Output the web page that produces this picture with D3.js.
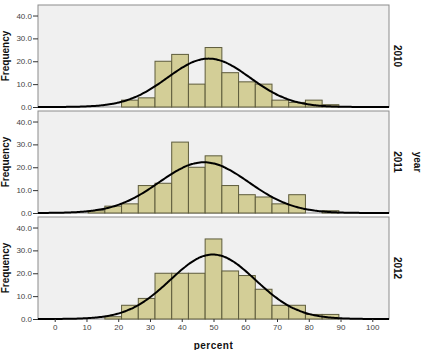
<!DOCTYPE html>
<html>
<head>
<meta charset="utf-8">
<script src="https://cdn.jsdelivr.net/npm/d3@7"></script>
<style>
  body { margin: 0; background: #fff; }
  svg { display: block; font-family: Arial, "Liberation Sans", sans-serif; }
</style>
</head>
<body>
<div id="chart"></div>
<script>
const years = ['2010', '2011', '2012'];
// histogram counts per bin (19 bins of width 100/19 starting at 0)
const counts2010 = [0, 0, 0, 0, 3, 4, 20, 23, 10, 26, 15, 11, 10, 3, 2, 3, 1, 0, 0];
const counts2011 = [0, 0, 1, 3, 4, 12, 13, 31, 20, 25, 12, 8, 7, 4, 8, 0, 1, 0, 0];
const counts2012 = [0, 0, 0, 1, 6, 9, 20, 20, 20, 35, 21, 19, 13, 6, 6, 2, 2, 0, 0];
// normal curve fit per year
const means = [48.5, 47.0, 49.8];
const sds = [13.0, 14.1, 13.4];
const xTicks = [0, 10, 20, 30, 40, 50, 60, 70, 80, 90, 100];
const yTicks = [0, 10, 20, 30, 40];

const allCounts = [counts2010, counts2011, counts2012];
const binWidth = 100 / 19;

const width = 424;
const height = 350;
const margin = { top: 5, right: 35, bottom: 31, left: 38 };
const panelH = 102;
const gap = 4;

const svg = d3.select('#chart')
  .append('svg')
  .attr('width', width)
  .attr('height', height);

const x = d3.scaleLinear()
  .domain([-binWidth, 20 * binWidth])
  .range([margin.left, width - margin.right]);

const y = d3.scaleLinear()
  .domain([0, 44.6])
  .range([panelH, 0]);

const normal = (v, m, s) => Math.exp(-0.5 * ((v - m) / s) ** 2) / (s * Math.sqrt(2 * Math.PI));

const line = d3.line()
  .x(d => x(d[0]))
  .y(d => y(d[1]))
  .curve(d3.curveBasis);

svg.append('defs').append('clipPath')
  .attr('id', 'clip')
  .append('rect')
  .attr('x', margin.left)
  .attr('y', -2)
  .attr('width', x.range()[1] - margin.left)
  .attr('height', panelH + 3);

years.forEach((yr, i) => {
  const counts = allCounts[i];
  const n = d3.sum(counts);
  const top = margin.top + i * (panelH + gap);
  const g = svg.append('g').attr('transform', `translate(0,${top})`);

  g.append('rect')
    .attr('x', margin.left)
    .attr('y', 0)
    .attr('width', x.range()[1] - margin.left)
    .attr('height', panelH)
    .attr('fill', '#f0f0f0')
    .attr('stroke', '#8c8c8c')
    .attr('stroke-width', 1);

  g.append('g')
    .selectAll('rect')
    .data(counts.map((c, k) => ({ k, c })).filter(d => d.c > 0))
    .join('rect')
      .attr('x', d => x(d.k * binWidth))
      .attr('y', d => y(d.c))
      .attr('width', d => x((d.k + 1) * binWidth) - x(d.k * binWidth))
      .attr('height', d => y(0) - y(d.c))
      .attr('fill', '#d3ce97')
      .attr('stroke', '#5e5c3c')
      .attr('stroke-width', 1);

  const pts = d3.range(x.domain()[0], x.domain()[1] + 0.5, 0.5)
    .map(v => [v, n * binWidth * normal(v, means[i], sds[i])]);

  g.append('path')
    .datum(pts)
    .attr('clip-path', 'url(#clip)')
    .attr('fill', 'none')
    .attr('stroke', '#000')
    .attr('stroke-width', 2)
    .attr('d', line);

  const ya = g.append('g')
    .attr('transform', `translate(${margin.left},0)`)
    .call(d3.axisLeft(y).tickValues(yTicks).tickFormat(d3.format('.1f')).tickSize(5).tickPadding(1));
  ya.select('.domain').remove();
  ya.selectAll('line').attr('stroke', '#333');
  ya.selectAll('text').attr('fill', '#444').attr('font-size', '8px');

  g.append('text')
    .attr('transform', `translate(9,${panelH / 2}) rotate(-90)`)
    .attr('text-anchor', 'middle')
    .attr('font-size', '10px')
    .attr('font-weight', 'bold')
    .attr('fill', '#111')
    .text('Frequency');

  g.append('text')
    .attr('transform', `translate(394,${panelH / 2}) rotate(90)`)
    .attr('text-anchor', 'middle')
    .attr('font-size', '10px')
    .attr('font-weight', 'bold')
    .attr('fill', '#111')
    .text(yr);

  if (i === years.length - 1) {
    const xa = g.append('g')
      .attr('transform', `translate(0,${panelH})`)
      .call(d3.axisBottom(x).tickValues(xTicks).tickSize(3).tickPadding(2));
    xa.select('.domain').remove();
    xa.selectAll('line').attr('stroke', '#333');
    xa.selectAll('text').attr('fill', '#444').attr('font-size', '8px');
  }
});

svg.append('text')
  .attr('transform', `translate(414,${margin.top + panelH + gap + panelH / 2}) rotate(90)`)
  .attr('text-anchor', 'middle')
  .attr('font-size', '10px')
  .attr('font-weight', 'bold')
  .attr('fill', '#111')
  .text('year');

svg.append('text')
  .attr('x', (x.range()[0] + x.range()[1]) / 2)
  .attr('y', 349)
  .attr('text-anchor', 'middle')
  .attr('font-size', '10px')
  .attr('font-weight', 'bold')
  .attr('letter-spacing', '0.5px')
  .attr('fill', '#111')
  .text('percent');
</script>
</body>
</html>
